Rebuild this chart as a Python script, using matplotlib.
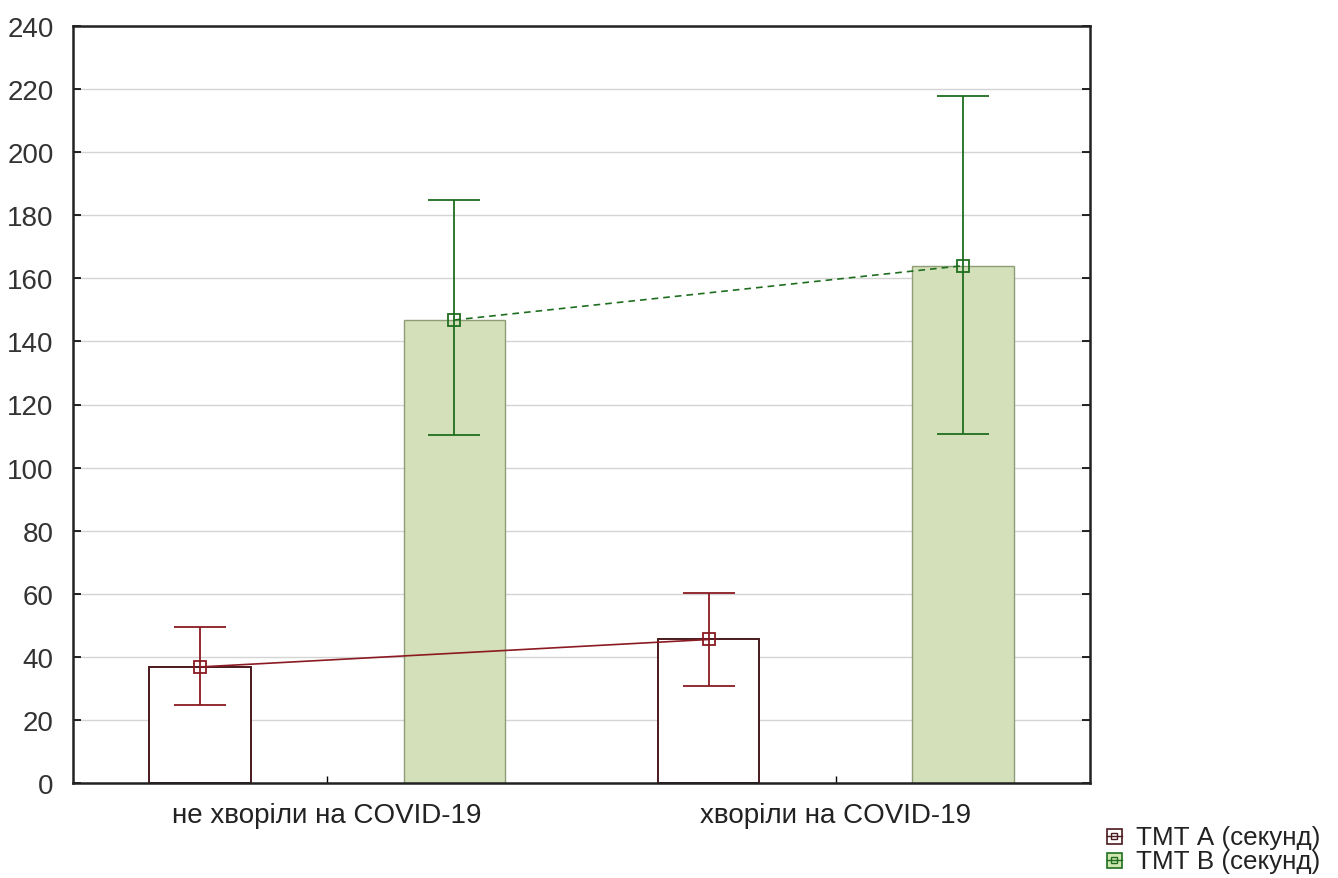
import matplotlib.pyplot as plt
from matplotlib.lines import Line2D
from matplotlib.patches import Rectangle
from matplotlib.legend_handler import HandlerBase

plt.rcParams['font.family'] = ['Liberation Sans', 'DejaVu Sans']

groups = ["не хворіли на COVID-19", "хворіли на COVID-19"]
series = ["ТМТ А (секунд)", "ТМТ В (секунд)"]

tmt_a_mean = [36.8, 45.5]
tmt_a_low = [24.6, 30.6]
tmt_a_high = [49.4, 60.3]

tmt_b_mean = [146.8, 164.0]
tmt_b_low = [110.2, 110.8]
tmt_b_high = [184.8, 217.8]

yticks = list(range(0, 241, 20))

col_a = "#8b1a22"
col_a_edge = "#4a1a1e"
col_b = "#1f6e1f"
col_b_face = "#d3e0b9"
col_b_edge = "#8e9c78"

fig = plt.figure(figsize=(13.38, 8.79), dpi=100)
ax = fig.add_axes([73 / 1338, 1 - 784 / 879, 1017 / 1338, 757 / 879])

pos_a = [0.5, 2.5]
pos_b = [1.5, 3.5]

ax.bar(pos_a, tmt_a_mean, width=0.4, facecolor="white", edgecolor=col_a_edge, lw=1.4, zorder=2)
ax.bar(pos_b, tmt_b_mean, width=0.4, facecolor=col_b_face, edgecolor=col_b_edge, lw=1.0, zorder=2)

err_a = [[m - l for m, l in zip(tmt_a_mean, tmt_a_low)], [h - m for m, h in zip(tmt_a_mean, tmt_a_high)]]
err_b = [[m - l for m, l in zip(tmt_b_mean, tmt_b_low)], [h - m for m, h in zip(tmt_b_mean, tmt_b_high)]]

ax.errorbar(pos_a, tmt_a_mean, yerr=err_a, fmt="none", ecolor=col_a, elinewidth=1.3, capsize=18.5, capthick=1.3, zorder=3)
ax.errorbar(pos_b, tmt_b_mean, yerr=err_b, fmt="none", ecolor=col_b, elinewidth=1.3, capsize=18.5, capthick=1.3, zorder=3)

ax.plot(pos_a, tmt_a_mean, color=col_a, lw=1.2, ls="-", marker="s", ms=9, mfc="none",
        mec=col_a, mew=1.3, zorder=4)
ax.plot(pos_b, tmt_b_mean, color=col_b, lw=1.2, ls=(0, (4, 3)), marker="s", ms=9, mfc="none",
        mec=col_b, mew=1.3, zorder=4)

ax.set_xlim(0, 4)
ax.set_ylim(0, 240)
ax.set_yticks(yticks)
ax.set_xticks([1, 3])
ax.set_xticklabels(groups)
ax.tick_params(axis="y", direction="in", left=True, right=True, length=6, width=1.2,
               labelsize=20, labelcolor="#333333", pad=14)
ax.tick_params(axis="x", direction="in", length=5, width=1.0, labelsize=20,
               labelcolor="#222222", pad=14)
ax.yaxis.grid(True, color="#d4d4d4", lw=1.0, zorder=0)
ax.set_axisbelow(True)
for s in ax.spines.values():
    s.set_linewidth(1.8)
    s.set_color("#222222")


class BoxHandler(HandlerBase):
    def __init__(self, color, face):
        super().__init__()
        self.color = color
        self.face = face

    def create_artists(self, legend, orig_handle, xdescent, ydescent, width, height, fontsize, trans):
        h = height * 0.8
        w = h
        x0 = -xdescent
        y0 = -ydescent + (height - h) / 2 - 1
        box = Rectangle((x0, y0), w, h, facecolor=self.face, edgecolor=self.color, lw=1.2, transform=trans)
        ln = Line2D([x0, x0 + w], [y0 + h / 2, y0 + h / 2], color=self.color, lw=1.0, transform=trans)
        mk = Line2D([x0 + w / 2], [y0 + h / 2], marker="s", ms=5, mfc="none", mec=self.color,
                    mew=1.0, transform=trans)
        return [box, ln, mk]


h_a = Line2D([], [], color=col_a)
h_b = Line2D([], [], color=col_b)
fig.legend([h_a, h_b], series, loc="lower right", bbox_to_anchor=(1.004, -0.021),
           frameon=False, fontsize=18.7, handlelength=0.65, handletextpad=0.45,
           labelspacing=0.0, labelcolor="#222222",
           handler_map={h_a: BoxHandler(col_a_edge, "white"), h_b: BoxHandler(col_b, "#cfe6b0")})

fig.savefig("out.png", dpi=100)
